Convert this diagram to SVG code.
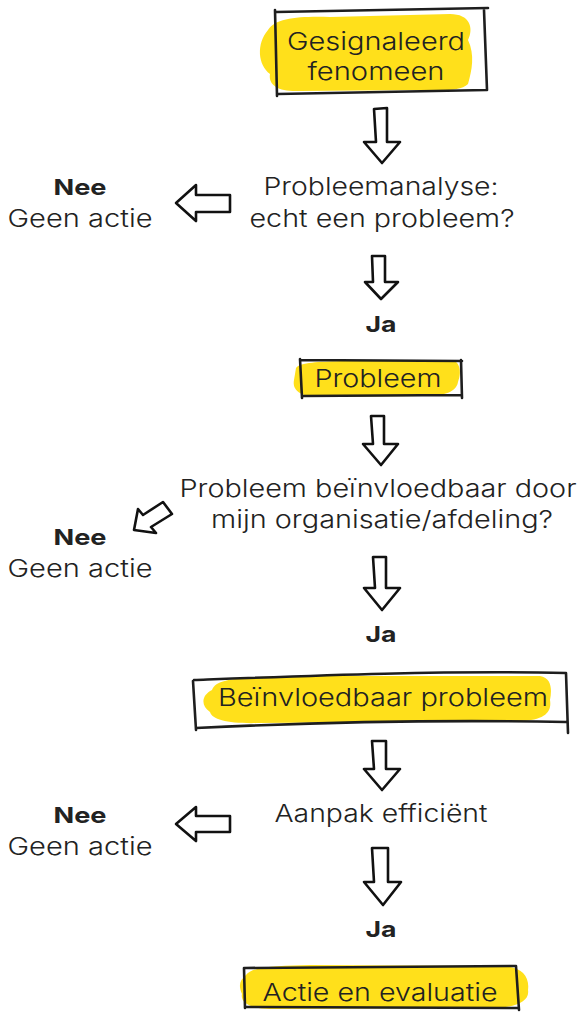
<svg xmlns="http://www.w3.org/2000/svg" width="580" height="1013" viewBox="0 0 580 1013">
<style>
text{font-family:Inter,"Noto Sans",sans-serif;fill:#222;font-size:24px;font-weight:300;text-anchor:middle}
.b{font-weight:700;font-size:22px}
.box{fill:none;stroke:#1e1e1e;stroke-width:2.6;stroke-linecap:round;stroke-linejoin:round}
.hl{fill:#ffe01b;stroke:none}
.arr{fill:#fff;stroke:#111;stroke-width:2.6;stroke-linejoin:round}
</style>
<rect width="580" height="1013" fill="#fff"/>
<g id="n1">
<path class="hl" d="M268,30 C275,18 300,16 330,17 L450,14 C470,14 474,28 468,40 C475,55 472,70 468,84 C460,92 440,90 420,90 L300,91 C280,92 268,86 270,74 C258,65 256,44 268,30 Z"/>
<path class="box" d="M275,10 L277,96 M276,12 L488,8 M484,10 L487,90 M278,94 L486,90"/>
<text x="376" y="50" textLength="178" lengthAdjust="spacingAndGlyphs">Gesignaleerd</text>
<text x="376" y="80" textLength="137" lengthAdjust="spacingAndGlyphs">fenomeen</text>
</g>
<g id="n2">
<text x="381" y="195" textLength="235" lengthAdjust="spacingAndGlyphs">Probleemanalyse:</text>
<text x="382" y="227" textLength="265" lengthAdjust="spacingAndGlyphs">echt een probleem?</text>
</g>
<g id="n3">
<text class="b" x="80" y="195" textLength="53" lengthAdjust="spacingAndGlyphs">Nee</text>
<text x="80" y="227" textLength="145" lengthAdjust="spacingAndGlyphs">Geen actie</text>
</g>
<g id="n4"><text class="b" x="381" y="332" textLength="31" lengthAdjust="spacingAndGlyphs">Ja</text></g>
<g id="n5">
<path class="hl" d="M296,368 C300,362 320,362 340,361 L450,360 C460,360 462,372 458,382 C456,394 440,396 420,396 L320,397 C300,397 292,390 294,380 Z"/>
<path class="box" d="M300,359 L302,398 M300,360 L462,361 M461,360 L462,398 M302,396 L462,395"/>
<text x="378" y="387" textLength="127" lengthAdjust="spacingAndGlyphs">Probleem</text>
</g>
<g id="n6">
<text x="378" y="497" textLength="397" lengthAdjust="spacingAndGlyphs">Probleem beïnvloedbaar door</text>
<text x="382" y="528" textLength="342" lengthAdjust="spacingAndGlyphs">mijn organisatie/afdeling?</text>
</g>
<g id="n7">
<text class="b" x="80" y="545" textLength="53" lengthAdjust="spacingAndGlyphs">Nee</text>
<text x="80" y="577" textLength="145" lengthAdjust="spacingAndGlyphs">Geen actie</text>
</g>
<g id="n8"><text class="b" x="381" y="642" textLength="31" lengthAdjust="spacingAndGlyphs">Ja</text></g>
<g id="n9">
<path class="hl" d="M212,690 C216,678 240,678 280,676 L540,676 C552,678 552,690 550,700 C552,712 545,720 520,721 L260,723 C230,724 212,720 210,712 C200,705 202,695 212,690 Z"/>
<path class="box" d="M193,681 L196,730 M194,680 C300,676 450,670 566,673 M566,673 L568,733 M196,728 C320,722 460,720 566,722"/>
<text x="383" y="706" textLength="330" lengthAdjust="spacingAndGlyphs">Beïnvloedbaar probleem</text>
</g>
<g id="n10"><text x="381" y="822" textLength="213" lengthAdjust="spacingAndGlyphs">Aanpak efficiënt</text></g>
<g id="n11">
<text class="b" x="80" y="823" textLength="53" lengthAdjust="spacingAndGlyphs">Nee</text>
<text x="80" y="855" textLength="145" lengthAdjust="spacingAndGlyphs">Geen actie</text>
</g>
<g id="n12"><text class="b" x="381" y="937" textLength="31" lengthAdjust="spacingAndGlyphs">Ja</text></g>
<g id="n13">
<path class="hl" d="M246,975 C252,966 280,966 310,965 L500,966 C520,966 530,975 528,990 C530,1002 515,1008 490,1008 L270,1009 C250,1009 240,1002 242,994 C238,985 240,980 246,975 Z"/>
<path class="box" d="M244,968 L245,1008 M245,968 L516,966 M516,966 L519,1010 M246,1007 L518,1008"/>
<text x="380" y="1001" textLength="235" lengthAdjust="spacingAndGlyphs">Actie en evaluatie</text>
</g>
<g id="connectors">
<path class="arr" d="M374,109 L387,108 L387,142 L400,142 L382,163 L364,142 L376,142 Z"/>
<path class="arr" d="M230,195 L196,195 L196,185 L176,203 L196,221 L196,212 L230,212 Z"/>
<path class="arr" d="M372,256 L385,256 L385,282 L398,282 L381,299 L365,282 L373,282 Z"/>
<path class="arr" d="M371,416 L384,416 L384,444 L398,444 L381,465 L363,444 L373,444 Z"/>
<path class="arr" d="M163,502 L172,514 L151,527 L156,533 L134,530 L138,509 L143,515 Z"/>
<path class="arr" d="M373,557 L386,557 L386,588 L400,588 L382,610 L364,588 L375,588 Z"/>
<path class="arr" d="M372,741 L386,741 L386,769 L400,769 L382,790 L364,769 L374,769 Z"/>
<path class="arr" d="M230,816 L196,816 L196,807 L176,824 L196,841 L196,832 L230,832 Z"/>
<path class="arr" d="M372,848 L388,848 L388,882 L401,882 L383,905 L364,882 L374,882 Z"/>
</g>
</svg>
